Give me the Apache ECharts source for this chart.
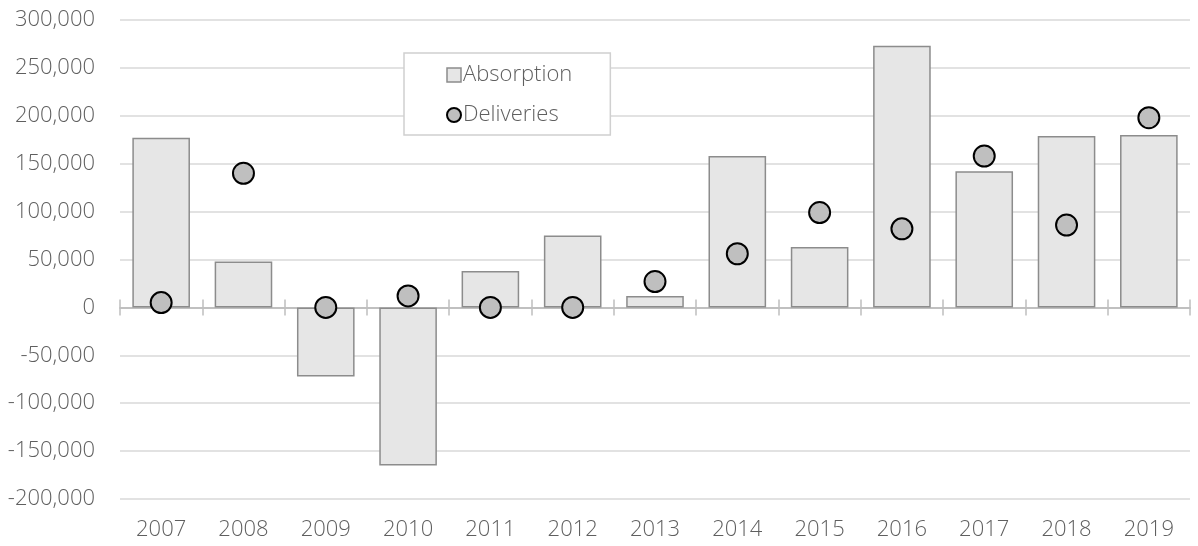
<!DOCTYPE html>
<html>
<head>
<meta charset="utf-8">
<script src="https://cdn.jsdelivr.net/npm/echarts@6/dist/echarts.min.js"></script>
<style>
html,body{margin:0;padding:0;background:#fff;}
#chart{width:1198px;height:546px;}
</style>
</head>
<body>
<div id="chart"></div>
<script>
const categories = ['2007','2008','2009','2010','2011','2012','2013','2014','2015','2016','2017','2018','2019'];
const absorption = [177000, 48000, -72000, -165000, 38000, 75000, 12000, 158000, 63000, 273000, 142000, 179000, 180000];
const deliveries = [5000, 140000, 0, 12000, 0, 0, 27000, 56000, 99000, 82000, 158000, 86000, 198000];
const yMin = -200000, yMax = 300000, yStep = 50000;

const FONT = "'Open Sans', 'DejaVu Sans', sans-serif";
const TXT = '#5f5f5f';

const chart = echarts.init(document.getElementById('chart'), null, {renderer: 'canvas'});
chart.setOption({
  animation: false,
  backgroundColor: '#ffffff',
  grid: {left: 120, right: 8, top: 20, bottom: 47, containLabel: false},
  legend: {
    orient: 'vertical',
    left: 404, top: 53,
    padding: [11, 38, 9, 42],
    itemGap: 18,
    itemWidth: 14, itemHeight: 14,
    backgroundColor: '#ffffff',
    borderColor: '#d0d0d0', borderWidth: 1.5,
    textStyle: {fontFamily: FONT, fontSize: 22, color: TXT, fontWeight: 300, lineHeight: 22, padding: [0,0,0,-3]},
    data: [
      {name: 'Absorption', icon: 'rect', itemStyle: {color: '#e6e6e6', borderColor: '#8c8c8c', borderWidth: 1.5}},
      {name: 'Deliveries', icon: 'circle', itemStyle: {color: '#bfbfbf', borderColor: '#000', borderWidth: 2}}
    ]
  },
  xAxis: [
    {
      type: 'category', data: categories, position: 'bottom',
      axisLine: {show: true, onZero: true, onZeroAxisIndex: 0, lineStyle: {color: '#bfbfbf', width: 1.5}},
      axisTick: {show: true, inside: false, length: 8, alignWithLabel: false, lineStyle: {color: '#bfbfbf', width: 1.5}},
      axisLabel: {show: false},
      splitLine: {show: false}
    },
    {
      type: 'category', data: categories, position: 'bottom',
      axisLine: {show: true, onZero: true, onZeroAxisIndex: 1, lineStyle: {color: '#bfbfbf', width: 1.5}},
      axisTick: {show: true, inside: true, length: 8, alignWithLabel: false, lineStyle: {color: '#bfbfbf', width: 1.5}},
      axisLabel: {show: false},
      splitLine: {show: false}
    },
    {
      type: 'category', data: categories, position: 'bottom',
      axisLine: {show: false, onZero: false},
      axisTick: {show: false},
      axisLabel: {show: true, margin: 20, fontFamily: FONT, fontSize: 22, color: TXT, fontWeight: 300},
      splitLine: {show: false}
    }
  ],
  yAxis: [
    {
      type: 'value', min: yMin, max: yMax, interval: yStep,
      axisLine: {show: false},
      axisTick: {show: false},
      axisLabel: {
        margin: 25, fontFamily: FONT, fontSize: 22, color: TXT, fontWeight: 300,
        formatter: v => v.toLocaleString('en-US')
      },
      splitLine: {show: true, lineStyle: {color: '#d9d9d9', width: 1.5}}
    },
    {
      type: 'value', min: yMin, max: yMax, interval: yStep, position: 'right',
      axisLine: {show: false}, axisTick: {show: false}, axisLabel: {show: false}, splitLine: {show: false}
    }
  ],
  series: [
    {
      name: 'Absorption', type: 'bar', xAxisIndex: 0, yAxisIndex: 0, data: absorption,
      barCategoryGap: '30%',
      itemStyle: {color: '#e6e6e6', borderColor: '#8c8c8c', borderWidth: 1.5},
      z: 2
    },
    {
      name: 'Deliveries', type: 'scatter', xAxisIndex: 0, yAxisIndex: 0, data: deliveries,
      symbol: 'circle', symbolSize: 21,
      itemStyle: {color: '#bfbfbf', borderColor: '#000000', borderWidth: 2, opacity: 1},
      z: 5
    }
  ]
});
</script>
</body>
</html>
